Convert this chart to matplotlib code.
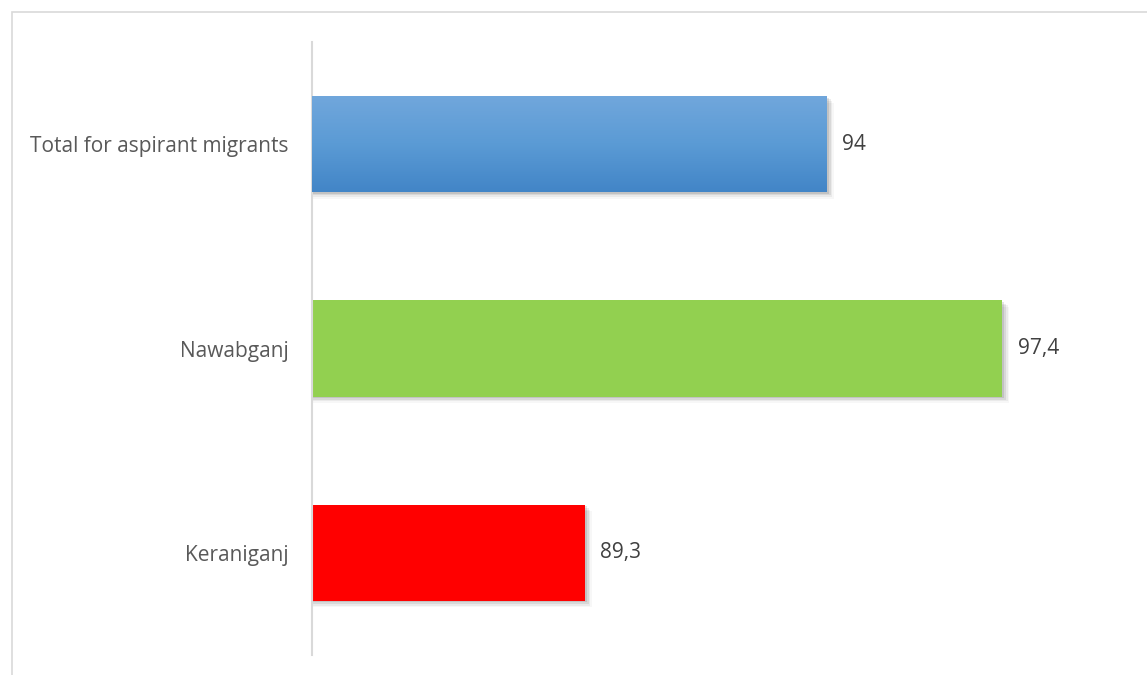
import numpy as np
import matplotlib
matplotlib.use('Agg')
import matplotlib.pyplot as plt
from matplotlib.patches import Rectangle
from matplotlib.colors import LinearSegmentedColormap

plt.rcParams['font.family'] = ['Open Sans', 'DejaVu Sans']

# Data
categories = ['Keraniganj', 'Nawabganj', 'Total for aspirant migrants']
values = [89.3, 97.4, 94]
labels = ['89,3', '97,4', '94']
colors = ['#FF0000', '#92D050', '#5B9BD5']

fig = plt.figure(figsize=(11.47, 6.75), dpi=100)
W, H = 1147, 675

# Chart border (light gray, cut off at right/bottom)
fig.patches.append(Rectangle((12 / W, -0.1), 1.2, 1 - 12 / H + 0.1,
                             transform=fig.transFigure, fill=False,
                             edgecolor='#D9D9D9', linewidth=1.2))

ax = fig.add_axes([312 / W, 20 / H, (1136 - 312) / W, (655 - 42) / H])
xmin, xmax = 84, 100
ax.set_xlim(xmin, xmax)
ax.set_ylim(-0.5, 2.5)

bar_h = 0.47
y = np.arange(len(categories))

for i, (v, c) in enumerate(zip(values, colors)):
    # soft shadow
    for k, a in zip(range(1, 5), [0.10, 0.07, 0.05, 0.03]):
        dx = 0.035 * k
        dy = 0.008 * k
        ax.add_patch(Rectangle((xmin, y[i] - bar_h / 2 - dy), v - xmin + dx, bar_h,
                               facecolor='#000000', alpha=a, edgecolor='none', zorder=1))
    bar = ax.barh(y[i], v - xmin, left=xmin, height=bar_h, color=c, zorder=2)
    if i == 2:
        # blue gradient fill
        cmap = LinearSegmentedColormap.from_list('blue', ['#4285C7', '#5B9BD5', '#71A7DC'])
        grad = np.linspace(0, 1, 256).reshape(-1, 1)
        im = ax.imshow(grad, cmap=cmap, aspect='auto', origin='lower',
                       extent=[xmin, v, y[i] - bar_h / 2, y[i] + bar_h / 2], zorder=3)
        im.set_clip_path(bar.patches[0])
    ax.text(v + 0.3, y[i], labels[i], va='center', ha='left', fontsize=15, color='#404040')

ax.set_xlim(xmin, xmax)
ax.set_ylim(-0.5, 2.5)
ax.set_yticks(y)
ax.set_yticklabels(categories, fontsize=15, color='#595959')
ax.tick_params(axis='y', length=0, pad=17)
ax.set_xticks([])

for s in ['top', 'right', 'bottom']:
    ax.spines[s].set_visible(False)
ax.spines['left'].set_color('#D9D9D9')
ax.spines['left'].set_linewidth(1.5)

fig.savefig('out.png', dpi=100)
